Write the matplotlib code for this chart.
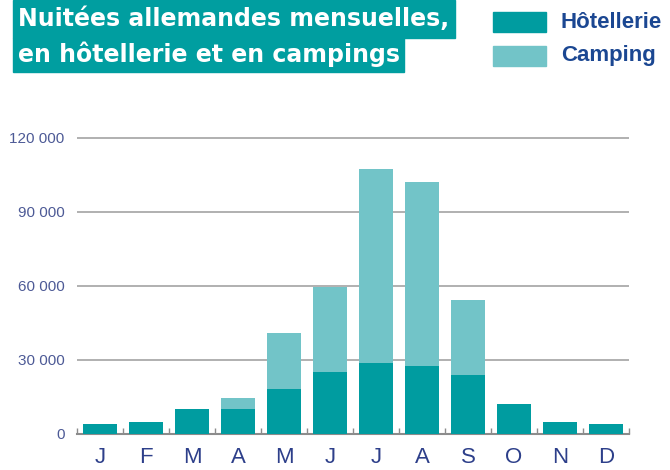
import numpy as np
import matplotlib
matplotlib.use('Agg')
import matplotlib.pyplot as plt
from matplotlib.patches import Rectangle

# data (nights, German visitors)
months = ['J', 'F', 'M', 'A', 'M', 'J', 'J', 'A', 'S', 'O', 'N', 'D']
hotel = [3700, 4500, 9800, 10100, 17900, 24800, 28500, 27300, 23600, 11900, 4500, 3700]
camping = [0, 0, 0, 4200, 23100, 34800, 79000, 75000, 30500, 0, 0, 0]
yticks = [0, 30000, 60000, 90000, 120000]

COL_HOT = '#009ca0'
COL_CAMP = '#72c4c8'
COL_BOX = '#009ea0'
COL_LEG = '#1b4792'
COL_YLAB = '#4d5a96'
COL_XLAB = '#2d3f8a'
COL_GRID = '#a3a3a3'

W, H = 670, 470
fig = plt.figure(figsize=(W / 100, H / 100), dpi=100)

def fx(px):
    return px / W

def fy(py):
    return 1 - py / H

# axes placed to match the reference pixel frame
ax = fig.add_axes([fx(77), fy(433.5), fx(552), 295.5 * 122 / 120 / H])
x = np.arange(len(months))
ax.bar(x, hotel, width=0.72, color=COL_HOT, zorder=3)
ax.bar(x, camping, width=0.72, bottom=hotel, color=COL_CAMP, zorder=3)

ax.set_xlim(-0.5, 11.5)
ax.set_ylim(0, 122000)
ax.set_yticks(yticks)
ax.set_yticklabels([f'{v:,}'.replace(',', ' ') for v in yticks],
                   fontsize=11, color=COL_YLAB, family='Liberation Sans')
ax.set_xticks(x)
ax.set_xticklabels(months, fontsize=16, color=COL_XLAB, family='Liberation Sans')
ax.set_xticks(np.arange(-0.5, 12, 1), minor=True)
ax.tick_params(axis='x', which='major', length=0, pad=10)
ax.tick_params(axis='x', which='minor', direction='in', length=4, width=1, color='#8c8c8c')
ax.tick_params(axis='y', length=0, pad=9)

for s in ['top', 'right', 'left']:
    ax.spines[s].set_visible(False)
ax.spines['bottom'].set_color('#8c8c8c')
ax.spines['bottom'].set_linewidth(1.5)
ax.yaxis.grid(True, color=COL_GRID, linewidth=1.2)
ax.set_axisbelow(True)

# title boxes (two stacked teal blocks)
fig.patches.append(Rectangle((fx(13), fy(38)), fx(442), 38 / H,
                             transform=fig.transFigure, color=COL_BOX, zorder=0))
fig.patches.append(Rectangle((fx(13), fy(72)), fx(391), 34 / H,
                             transform=fig.transFigure, color=COL_BOX, zorder=0))
fig.text(fx(18), fy(19), 'Nuitées allemandes mensuelles,', color='white',
         fontsize=17, fontweight='bold', va='center', ha='left')
fig.text(fx(18), fy(54), 'en hôtellerie et en campings', color='white',
         fontsize=17, fontweight='bold', va='center', ha='left')

# legend
for ytop, col, lab in [(12, COL_HOT, 'Hôtellerie'), (46, COL_CAMP, 'Camping')]:
    fig.patches.append(Rectangle((fx(493), fy(ytop + 20)), fx(53), 20 / H,
                                 transform=fig.transFigure, color=col))
    fig.text(fx(561), fy(ytop + 10), lab, color=COL_LEG, fontsize=16,
             fontweight='bold', va='center', ha='left', family='Liberation Sans')

fig.savefig('out.png', dpi=100)
